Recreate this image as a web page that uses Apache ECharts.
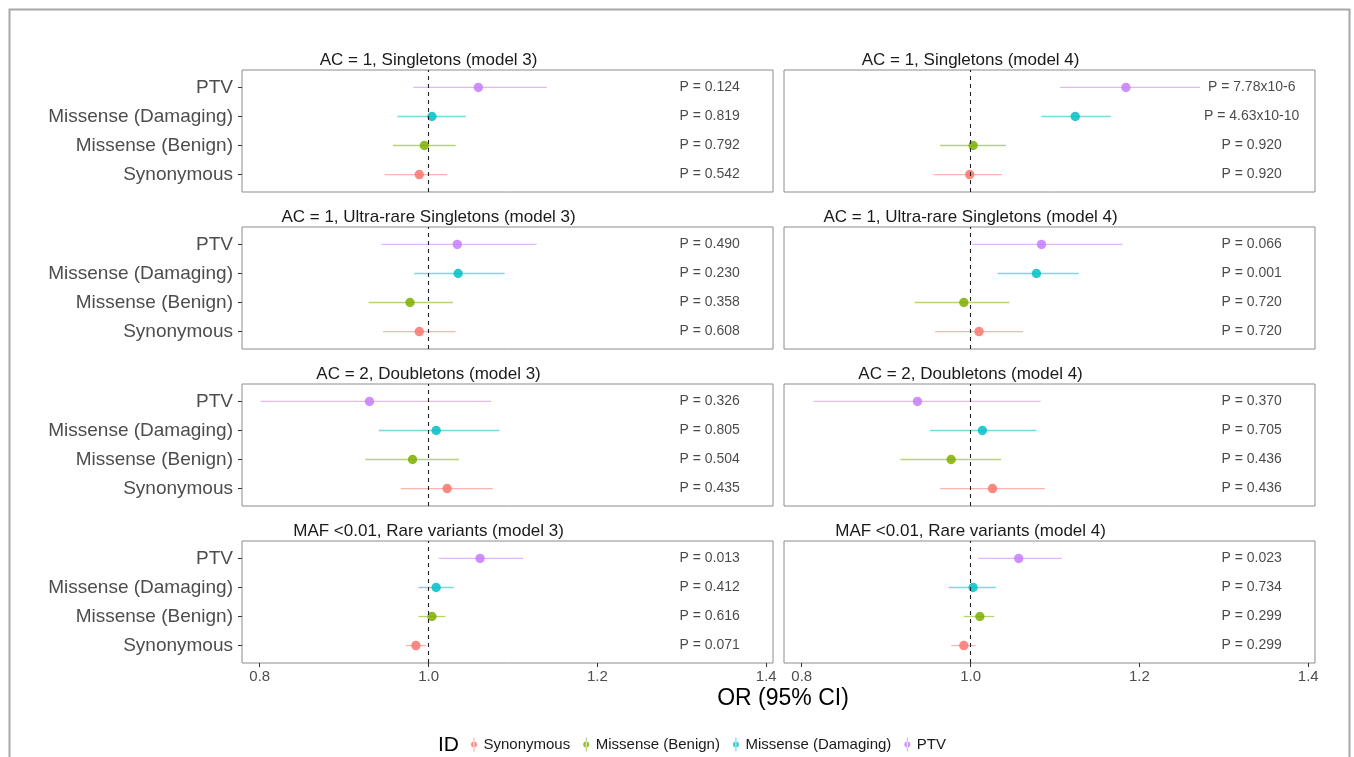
<!DOCTYPE html>
<html><head><meta charset="utf-8">
<script src="https://cdn.jsdelivr.net/npm/echarts@6/dist/echarts.min.js"></script>
<style>html,body{margin:0;padding:0;background:#fff}#c{width:1354px;height:757px}</style>
</head><body><div id="c"></div>
<script>
// ---------- data ----------
const categories = ['Synonymous', 'Missense (Benign)', 'Missense (Damaging)', 'PTV'];
const colors = ['#F8766D', '#7CAE00', '#00BFC4', '#C77CFF'];
const panelTitles = [
  'AC = 1, Singletons (model 3)', 'AC = 1, Singletons (model 4)',
  'AC = 1, Ultra-rare Singletons (model 3)', 'AC = 1, Ultra-rare Singletons (model 4)',
  'AC = 2, Doubletons (model 3)', 'AC = 2, Doubletons (model 4)',
  'MAF <0.01, Rare variants (model 3)', 'MAF <0.01, Rare variants (model 4)'
];
// order in each row: Synonymous, Missense (Benign), Missense (Damaging), PTV
const orEst = [
  [0.989, 0.995, 1.004, 1.059],
  [0.999, 1.003, 1.124, 1.184],
  [0.989, 0.978, 1.035, 1.034],
  [1.010, 0.992, 1.078, 1.084],
  [1.022, 0.981, 1.009, 0.930],
  [1.026, 0.977, 1.014, 0.937],
  [0.985, 1.004, 1.009, 1.061],
  [0.992, 1.011, 1.003, 1.057]
];
const ciLow = [
  [0.948, 0.958, 0.963, 0.982],
  [0.956, 0.964, 1.084, 1.106],
  [0.946, 0.929, 0.983, 0.944],
  [0.958, 0.934, 1.032, 1.002],
  [0.967, 0.925, 0.941, 0.801],
  [0.964, 0.917, 0.952, 0.814],
  [0.973, 0.988, 0.988, 1.012],
  [0.977, 0.992, 0.974, 1.009]
];
const ciHigh = [
  [1.022, 1.032, 1.044, 1.140],
  [1.037, 1.042, 1.166, 1.272],
  [1.032, 1.029, 1.090, 1.128],
  [1.062, 1.046, 1.128, 1.180],
  [1.076, 1.036, 1.084, 1.074],
  [1.088, 1.036, 1.078, 1.083],
  [0.997, 1.020, 1.030, 1.112],
  [1.006, 1.028, 1.030, 1.108]
];
const pValues = [
  ['0.542', '0.792', '0.819', '0.124'],
  ['0.920', '0.920', '4.63x10-10', '7.78x10-6'],
  ['0.608', '0.358', '0.230', '0.490'],
  ['0.720', '0.720', '0.001', '0.066'],
  ['0.435', '0.504', '0.805', '0.326'],
  ['0.436', '0.436', '0.705', '0.370'],
  ['0.071', '0.616', '0.412', '0.013'],
  ['0.299', '0.299', '0.734', '0.023']
];
const xTicks = [0.8, 1.0, 1.2, 1.4];
const pLabelX = 1.333;
const refLine = 1.0;

// ---------- layout ----------
const X_MIN = 0.779, X_MAX = 1.408;
const colLeft = [242, 784];
const rowTop = [70, 227, 384, 541];
const PW = 531, PH = 122;
const FONT = '"Liberation Sans", Arial, sans-serif';

const grids = [], xAxes = [], yAxes = [], series = [], titles = [];
for (let p = 0; p < 8; p++) {
  const col = p % 2, row = Math.floor(p / 2);
  const left = colLeft[col], top = rowTop[row];
  grids.push({left: left, top: top, width: PW, height: PH, show: true,
    borderColor: '#8c8c8c', borderWidth: 1, backgroundColor: '#fff', containLabel: false});
  const bottomRow = row === 3;
  xAxes.push({type: 'value', gridIndex: p, min: X_MIN, max: X_MAX, position: 'bottom',
    axisLine: {show: false, onZero: false}, splitLine: {show: false},
    axisTick: {show: bottomRow, customValues: xTicks, length: 4, lineStyle: {color: '#333'}},
    axisLabel: {show: bottomRow, customValues: xTicks, formatter: v => v.toFixed(1),
      fontSize: 15, color: '#4d4d4d', fontFamily: FONT, margin: 6}});
  yAxes.push({type: 'value', gridIndex: p, min: -0.6, max: 3.6, position: 'left',
    axisLine: {show: false, onZero: false}, splitLine: {show: false},
    axisTick: {show: col === 0, customValues: [0, 1, 2, 3], length: 4, lineStyle: {color: '#333'}},
    axisLabel: {show: col === 0, customValues: [0, 1, 2, 3], formatter: v => categories[Math.round(v)],
      fontSize: 19, color: '#4d4d4d', fontFamily: FONT, margin: 9}});
  const centerX = left + (refLine - X_MIN) / (X_MAX - X_MIN) * PW;
  titles.push({text: panelTitles[p], left: centerX, top: top - 18, textAlign: 'center', padding: 0,
    textStyle: {fontSize: 17, fontWeight: 'normal', color: '#1a1a1a', fontFamily: FONT}});

  categories.forEach((cat, c) => {
    const color = colors[c];
    series.push({
      type: 'custom', name: cat, xAxisIndex: p, yAxisIndex: p, color: color,
      data: [[c, ciLow[p][c], ciHigh[p][c], orEst[p][c]]],
      encode: {x: [1, 2, 3], y: 0},
      renderItem: (params, api) => {
        const y = api.value(0);
        const a = api.coord([api.value(1), y]);
        const b = api.coord([api.value(2), y]);
        const m = api.coord([api.value(3), y]);
        return {type: 'group', children: [
          {type: 'line', shape: {x1: a[0], y1: a[1], x2: b[0], y2: b[1]},
            style: {stroke: color, lineWidth: 1.3, opacity: 0.55}},
          {type: 'circle', shape: {cx: m[0], cy: m[1], r: 4.7},
            style: {fill: color, opacity: 0.85}}
        ]};
      }
    });
  });

  series.push({
    type: 'scatter', name: 'pval', xAxisIndex: p, yAxisIndex: p, symbolSize: 0, silent: true,
    data: pValues[p].map((t, c) => ({value: [pLabelX, c], label: {formatter: 'P = ' + t}})),
    label: {show: true, position: 'inside', fontSize: 14, color: '#1a1a1a', fontFamily: FONT},
    markLine: {silent: true, symbol: 'none', label: {show: false},
      lineStyle: {color: '#222', type: [4, 4], width: 1.1},
      data: [{xAxis: refLine}]},
    z: 3
  });
}

titles.push({text: 'OR (95% CI)', left: 783, top: 687, textAlign: 'center', padding: 0,
  textStyle: {fontSize: 23, fontWeight: 'normal', color: '#000', fontFamily: FONT}});
titles.push({text: 'ID', left: 438, top: 735, padding: 0,
  textStyle: {fontSize: 21, fontWeight: 'normal', color: '#000', fontFamily: FONT}});

const legendIcon = 'path://M3.6,0 L4.4,0 L4.4,14 L3.6,14 Z M1,7 A3,3 0 1,0 7,7 A3,3 0 1,0 1,7 Z';

const chart = echarts.init(document.getElementById('c'), null, {renderer: 'canvas'});
chart.setOption({
  animation: false,
  backgroundColor: '#fff',
  title: titles,
  grid: grids, xAxis: xAxes, yAxis: yAxes, series: series,
  legend: {
    data: categories.map((c, i) => ({name: c, icon: legendIcon, itemStyle: {color: colors[i], opacity: 0.8}})),
    left: 471, top: 737, itemWidth: 7, itemHeight: 14, itemGap: 13, padding: 0,
    textStyle: {fontSize: 15, color: '#1a1a1a', fontFamily: FONT, padding: [0, 0, 0, 1]},
    selectedMode: false
  },
  graphic: [{type: 'rect', left: 7, top: 7, shape: {x: 0, y: 0, width: 1340, height: 760},
    style: {fill: 'none', stroke: '#a8a8a8', lineWidth: 2}, silent: true, z: -1}]
});
</script>
</body></html>
